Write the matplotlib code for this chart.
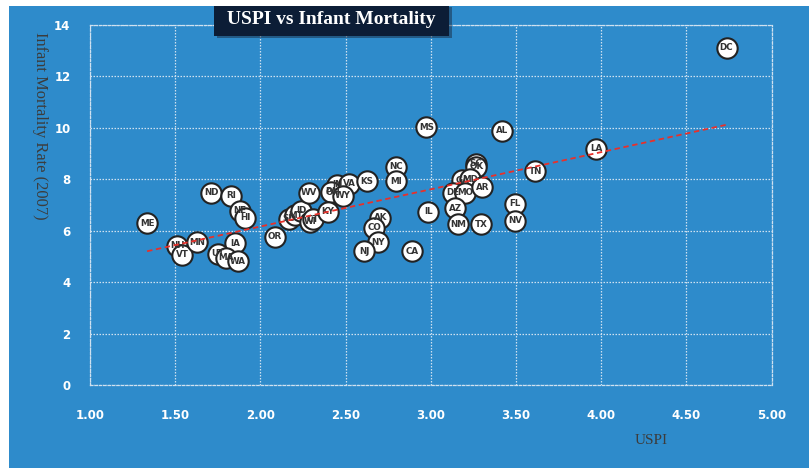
import numpy as np
import matplotlib
matplotlib.use("Agg")
import matplotlib.pyplot as plt
from matplotlib.patches import Rectangle

states = ["ME", "NH", "VT", "MN", "ND", "RI", "NE", "HI", "IA", "UT", "MA", "WA",
          "OR", "SD", "MT", "ID", "WI", "CT", "WV", "OH", "IN", "PA", "VA", "WY",
          "KS", "KY", "NC", "MI", "AK", "CO", "NY", "NJ", "CA", "IL", "MS", "AL",
          "SC", "OK", "GA", "MD", "DE", "MO", "AR", "AZ", "NM", "TX", "FL", "NV",
          "TN", "LA", "DC"]
uspi = [1.335, 1.511, 1.540, 1.628, 1.711, 1.828, 1.881, 1.910, 1.852, 1.752, 1.799, 1.869,
        2.087, 2.169, 2.205, 2.239, 2.292, 2.310, 2.286, 2.427, 2.451, 2.416, 2.521, 2.486,
        2.627, 2.398, 2.797, 2.797, 2.703, 2.668, 2.692, 2.609, 2.891, 2.985, 2.974, 3.420,
        3.267, 3.267, 3.185, 3.232, 3.132, 3.203, 3.302, 3.144, 3.161, 3.297, 3.496, 3.496,
        3.614, 3.972, 4.736]
infant_mortality = [6.30, 5.41, 5.06, 5.56, 7.47, 7.35, 6.77, 6.50, 5.52, 5.10, 4.94, 4.82,
                    5.76, 6.46, 6.60, 6.77, 6.34, 6.45, 7.47, 7.47, 7.78, 7.51, 7.82, 7.35,
                    7.93, 6.73, 8.48, 7.93, 6.50, 6.11, 5.56, 5.21, 5.21, 6.73, 10.03, 9.88,
                    8.60, 8.48, 7.97, 8.01, 7.47, 7.47, 7.70, 6.88, 6.26, 6.26, 7.04, 6.38,
                    8.32, 9.18, 13.11]

x_ticks = [1.0, 1.5, 2.0, 2.5, 3.0, 3.5, 4.0, 4.5, 5.0]
y_ticks = [0, 2, 4, 6, 8, 10, 12, 14]

W, H = 809, 468
fig = plt.figure(figsize=(W / 100, H / 100), dpi=100)
fig.patch.set_facecolor("white")
blue = "#2e8bcb"
fig.patches.append(Rectangle((9 / W, 0), 1 - 9 / W, 1 - 6 / H, transform=fig.transFigure,
                             facecolor=blue, edgecolor="none", zorder=-1))

ax = fig.add_axes([90 / W, (H - 385) / H, (771.5 - 90) / W, (385 - 25) / H])
ax.set_facecolor(blue)
ax.set_xlim(1.0, 5.0)
ax.set_ylim(0, 14)
ax.set_xticks(x_ticks)
ax.set_yticks(y_ticks)
ax.set_xticklabels([f"{v:.2f}" for v in x_ticks])
ax.set_yticklabels([str(v) for v in y_ticks])
ax.tick_params(length=0, colors="white", labelsize=8.5)
ax.tick_params(axis="x", pad=17)
ax.tick_params(axis="y", pad=14)
for lab in ax.get_xticklabels() + ax.get_yticklabels():
    lab.set_fontweight("bold")
ax.grid(True, color="#cfe1f0", linestyle=(0, (1.2, 1.2)), linewidth=0.9)
ax.set_axisbelow(True)
for sp in ax.spines.values():
    sp.set_color("#cfe1f0")
    sp.set_linestyle((0, (2, 1.5)))
    sp.set_linewidth(0.9)

x = np.array(uspi)
y = np.array(infant_mortality)
slope, intercept = np.polyfit(x, y, 1)
xl = np.array([x.min(), x.max()])
ax.plot(xl, slope * xl + intercept, color="#e8302a", linestyle=(0, (3, 2)), linewidth=1.3, zorder=5)

ax.scatter(x, y, s=215, facecolor="white", edgecolor="#222222", linewidth=1.5, zorder=3)
for s_, xi, yi in zip(states, x, y):
    ax.text(xi, yi, s_, ha="center", va="center", fontsize=6.3, fontweight="bold",
            color="#333333", zorder=4)

# title box
fig.patches.append(Rectangle((217 / W, (H - 38) / H), 235 / W, 31 / H, transform=fig.transFigure,
                             facecolor="#1a2a40", alpha=0.5, edgecolor="none", zorder=1))
fig.patches.append(Rectangle((214 / W, (H - 36) / H), 235 / W, 30 / H, transform=fig.transFigure,
                             facecolor="#0c1d36", edgecolor="none", zorder=2))
fig.text(331.5 / W, (H - 20) / H, "USPI vs Infant Mortality", ha="center", va="center",
         fontsize=14, fontweight="bold", color="white", family="Liberation Serif", zorder=3)

fig.text(40 / W, (H - 32) / H, "Infant Mortality Rate (2007)", rotation=-90, ha="center", va="top",
         fontsize=11.8, color="#3c3c3c", family="Liberation Serif")
fig.text(651 / W, (H - 440) / H, "USPI", ha="center", va="center",
         fontsize=11, color="#3c3c3c", family="Liberation Serif")

fig.savefig("out.png", dpi=100)
